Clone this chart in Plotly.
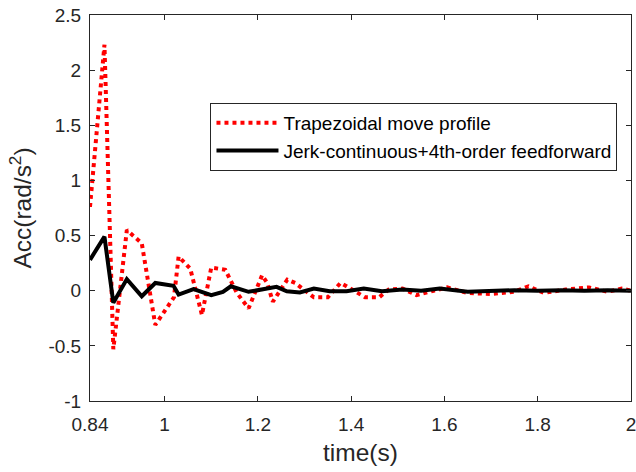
import plotly.graph_objects as go

# Trapezoidal move profile (red dotted)
trap_t = [0.84, 0.871, 0.89, 0.919, 0.951, 0.98, 1.02, 1.03, 1.055, 1.08, 1.10, 1.13, 1.155,
          1.18, 1.209, 1.22, 1.232, 1.263, 1.28, 1.32, 1.35, 1.377, 1.39, 1.43, 1.46, 1.48,
          1.51, 1.54, 1.577, 1.606, 1.649, 1.699, 1.749, 1.78, 1.813, 1.86, 1.91, 1.95, 1.98, 2.0]
trap_v = [0.76, 2.23, -0.53, 0.55, 0.43, -0.31, -0.06, 0.31, 0.20, -0.22, 0.21, 0.19, -0.02,
          -0.16, 0.14, 0.07, -0.10, 0.10, 0.07, -0.06, -0.06, 0.07, 0.04, -0.06, -0.06, 0.01,
          0.02, -0.04, 0.0, 0.03, -0.02, -0.03, -0.01, 0.04, -0.02, 0.01, 0.03, -0.01, 0.02, 0.0]

# Jerk-continuous + 4th-order feedforward (black solid)
jerk_t = [0.84, 0.871, 0.89, 0.919, 0.951, 0.98, 1.019, 1.03, 1.062, 1.10, 1.125, 1.142, 1.18,
          1.219, 1.24, 1.262, 1.29, 1.32, 1.354, 1.39, 1.427, 1.466, 1.51, 1.55, 1.59, 1.65,
          1.70, 1.75, 1.80, 1.85, 1.90, 1.95, 2.0]
jerk_v = [0.28, 0.49, -0.11, 0.105, -0.05, 0.07, 0.045, -0.035, 0.015, -0.04, -0.01, 0.04, -0.01,
          0.025, 0.035, -0.005, -0.015, 0.02, -0.005, -0.005, 0.02, -0.005, 0.01, 0.0, 0.02, -0.01,
          0.0, 0.005, 0.0, 0.005, 0.0, 0.005, 0.0]

x_ticks = [0.84, 1, 1.2, 1.4, 1.6, 1.8, 2]
x_tick_text = ["0.84", "1", "1.2", "1.4", "1.6", "1.8", "2"]
y_ticks = [-1, -0.5, 0, 0.5, 1, 1.5, 2, 2.5]
y_tick_text = ["-1", "-0.5", "0", "0.5", "1", "1.5", "2", "2.5"]

FONT = "Liberation Sans, Arial, sans-serif"
AX = "#262626"

fig = go.Figure()
fig.add_trace(go.Scatter(x=trap_t, y=trap_v, mode="lines", name="Trapezoidal move profile",
                         line=dict(color="#ff0000", width=4, dash="dot")))
fig.add_trace(go.Scatter(x=jerk_t, y=jerk_v, mode="lines",
                         name="Jerk-continuous+4th-order feedforward",
                         line=dict(color="#000000", width=4)))

fig.update_layout(
    width=636, height=472,
    margin=dict(l=90, r=5, t=15, b=71, autoexpand=False),
    paper_bgcolor="white", plot_bgcolor="white",
    font=dict(family=FONT, color=AX, size=19),
    showlegend=True,
    legend=dict(x=0.975, y=0.772, xanchor="right", yanchor="top",
                bgcolor="white", bordercolor="#262626", borderwidth=1,
                font=dict(family=FONT, size=19, color="#000000"),
                itemwidth=62, tracegroupgap=0),
    xaxis=dict(range=[0.84, 2], tickvals=x_ticks, ticktext=x_tick_text, automargin=False,
               showgrid=False, zeroline=False, showline=True, linecolor=AX, linewidth=1,
               mirror="allticks", ticks="inside", ticklen=5, tickcolor=AX,
               ticklabeloverflow="allow", ticklabelstandoff=6,
               tickfont=dict(size=19, color=AX),
               title=dict(text="time(s)", font=dict(size=24.5, color=AX), standoff=10)),
    yaxis=dict(range=[-1, 2.5], tickvals=y_ticks, ticktext=y_tick_text, automargin=False,
               showgrid=False, zeroline=False, showline=True, linecolor=AX, linewidth=1,
               mirror="allticks", ticks="inside", ticklen=5, tickcolor=AX,
               ticklabeloverflow="allow", ticklabelstandoff=4,
               tickfont=dict(size=19, color=AX),
               title=dict(text="Acc(rad/s<sup>2</sup>)", font=dict(size=24.5, color=AX), standoff=9)),
)

fig.write_html("out.html", config={"displayModeBar": False},
               post_script="document.body.style.margin='0';")
